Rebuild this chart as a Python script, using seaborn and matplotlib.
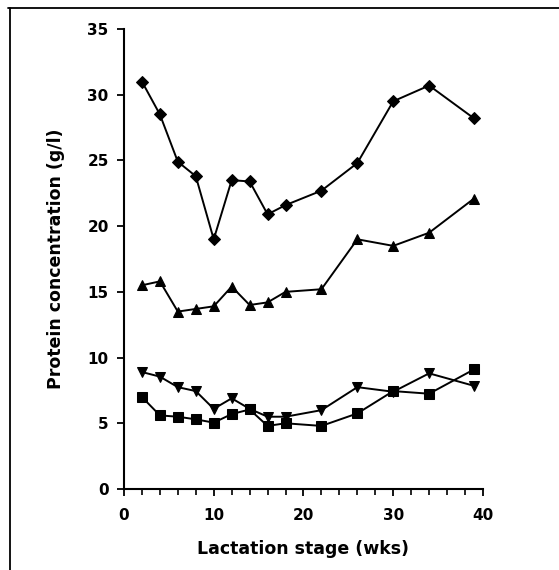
import matplotlib
matplotlib.use("Agg")
import matplotlib.pyplot as plt
from matplotlib.lines import Line2D
from matplotlib.ticker import MultipleLocator
import seaborn as sns
import pandas as pd

# weeks of lactation
weeks = [2, 4, 6, 8, 10, 12, 14, 16, 18, 22, 26, 30, 34, 39]

# protein concentration (g/l), one list per series
diamond = [31.0, 28.5, 24.9, 23.8, 19.0, 23.5, 23.4, 20.9, 21.6, 22.7, 24.8, 29.5, 30.7, 28.2]
triangle_up = [15.5, 15.8, 13.5, 13.7, 13.9, 15.4, 14.0, 14.2, 15.0, 15.2, 19.0, 18.5, 19.5, 22.1]
triangle_down = [8.9, 8.55, 7.75, 7.45, 6.1, 6.9, 6.1, 5.5, 5.5, 6.0, 7.75, 7.4, 8.8, 7.85]
square = [7.0, 5.6, 5.5, 5.3, 5.05, 5.7, 6.05, 4.8, 5.0, 4.8, 5.75, 7.45, 7.25, 9.1]

series = {"diamond": diamond, "up": triangle_up, "down": triangle_down, "square": square}
rows = []
for name, vals in series.items():
    for w, v in zip(weeks, vals):
        rows.append({"week": w, "protein": v, "series": name})
df = pd.DataFrame(rows)

sns.set_style("ticks", {"text.color": "black", "axes.labelcolor": "black",
                        "xtick.color": "black", "ytick.color": "black",
                        "axes.edgecolor": "black"})
plt.rcParams['font.family'] = ['DejaVu Sans']

fig = plt.figure(figsize=(5.59, 5.70), dpi=100)
ax = fig.add_axes([0.2218, 0.1421, 0.864 - 0.2218, 0.9491 - 0.1421])

markers = {"diamond": "D", "up": "^", "down": "v", "square": "s"}
sizes = {"diamond": 6.5, "up": 7.5, "down": 7.5, "square": 7.5}
for name in series:
    sns.lineplot(data=df[df["series"] == name], x="week", y="protein", ax=ax,
                 color="black", marker=markers[name], markersize=sizes[name],
                 markeredgecolor="black", linewidth=1.4, legend=False)

ax.set_xlim(0, 40)
ax.set_ylim(0, 35)
ax.xaxis.set_major_locator(MultipleLocator(10))
ax.xaxis.set_minor_locator(MultipleLocator(2))
ax.yaxis.set_major_locator(MultipleLocator(5))
sns.despine(ax=ax)
for sp in ["left", "bottom"]:
    ax.spines[sp].set_linewidth(1.5)
ax.tick_params(axis="both", which="major", length=5, width=1.3, color="black",
               labelsize=11, pad=6)
ax.tick_params(axis="x", which="minor", length=4, width=1.2, color="black")
ax.tick_params(axis="x", which="major", pad=9)
for lbl in ax.get_xticklabels() + ax.get_yticklabels():
    lbl.set_fontweight("bold")

ax.set_xlabel("Lactation stage (wks)", fontsize=12.5, fontweight="bold", labelpad=12)
ax.set_ylabel("Protein concentration (g/l)", fontsize=12.5, fontweight="bold", labelpad=16)

# page frame around the figure
fig.add_artist(Line2D([0.018, 0.018], [0.0, 0.986], transform=fig.transFigure,
                      color="black", linewidth=1.3))
fig.add_artist(Line2D([0.014, 1.0], [0.986, 0.986], transform=fig.transFigure,
                      color="black", linewidth=1.3))

fig.savefig("out.png", dpi=100)
